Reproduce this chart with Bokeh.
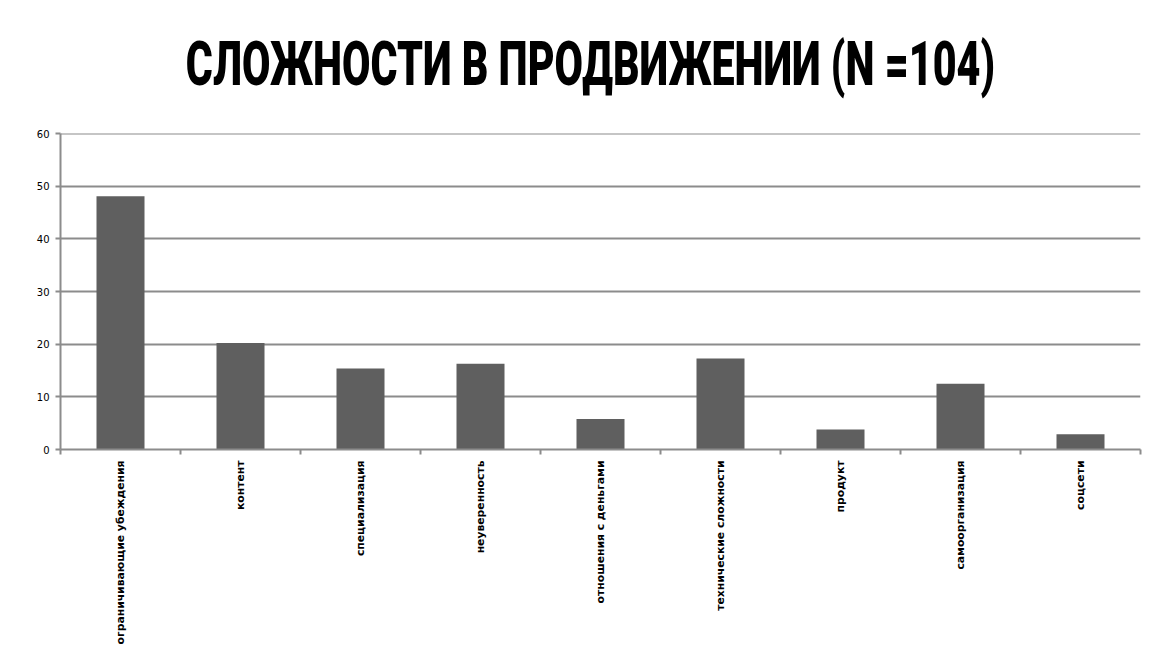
from bokeh.plotting import figure
from bokeh.models import Range1d, LinearAxis, FixedTicker, ColumnDataSource, Div, Span
from bokeh.layouts import column
from bokeh.embed import file_html
from bokeh.resources import INLINE
import math

title_text = "СЛОЖНОСТИ В ПРОДВИЖЕНИИ (N =104)"
categories = ["ограничивающие убеждения", "контент", "специализация", "неуверенность",
              "отношения с деньгами", "технические сложности", "продукт",
              "самоорганизация", "соцсети"]
values = [48.1, 20.2, 15.4, 16.3, 5.8, 17.3, 3.8, 12.5, 2.9]
y_ticks = [0, 10, 20, 30, 40, 50, 60]

GRID = "#8c8c8c"
BAR = "#5f5f5f"

n = len(categories)
centers = [i + 0.5 for i in range(n)]
src = ColumnDataSource(dict(x=centers, val=values, cat=categories))

title = Div(
    text=('<div style="display:flex;justify-content:center;width:1154px;overflow:visible;">'
          '<span style="display:inline-block;white-space:nowrap;font-family:Roboto,sans-serif;'
          'font-weight:900;font-size:62px;line-height:62px;color:black;margin-left:16px;'
          'transform:scaleX(0.665);transform-origin:center;">'
          + title_text + '</span></div>'),
    width=1154, height=110,
    styles={"padding-top": "28px"},
)

p = figure(frame_width=1080, frame_height=316, output_backend="svg", toolbar_location=None,
           x_range=Range1d(0, n), y_range=Range1d(0, y_ticks[-1]),
           min_border_left=60, min_border_right=14, min_border_top=13,
           min_border_bottom=0, x_axis_location=None)
p.outline_line_color = None
p.background_fill_color = "white"
p.border_fill_color = "white"

p.vbar(x="x", top="val", width=0.4, source=src, fill_color=BAR, line_color=None)

# y axis
p.yaxis.ticker = FixedTicker(ticks=y_ticks)
p.yaxis.axis_line_color = GRID
p.yaxis.axis_line_width = 2
p.yaxis.major_tick_line_color = GRID
p.yaxis.major_tick_line_width = 2
p.yaxis.major_tick_out = 5
p.yaxis.major_tick_in = 0
p.yaxis.minor_tick_line_color = None
p.yaxis.major_label_text_font = "DejaVu Sans"
p.yaxis.major_label_text_font_size = "10px"
p.yaxis.major_label_text_color = "black"
p.yaxis.major_label_standoff = 6

p.ygrid.ticker = FixedTicker(ticks=y_ticks)
p.ygrid.grid_line_color = GRID
p.ygrid.grid_line_width = 2
p.xgrid.grid_line_color = None

# top gridline at the range end (not clipped)
p.add_layout(Span(location=y_ticks[-1], dimension="width", line_color=GRID, line_width=2))

# boundary ticks axis (closest to plot)
bax = LinearAxis(ticker=FixedTicker(ticks=list(range(n + 1))))
bax.axis_line_color = GRID
bax.axis_line_width = 2
bax.major_tick_line_color = GRID
bax.major_tick_line_width = 2
bax.major_tick_out = 5
bax.major_tick_in = 0
bax.minor_tick_line_color = None
bax.major_label_overrides = {i: "" for i in range(n + 1)}
bax.major_label_text_font_size = "1px"
bax.major_label_standoff = 0
p.add_layout(bax, "below")

# category labels
cax = LinearAxis(ticker=FixedTicker(ticks=centers))
cax.axis_line_color = None
cax.major_tick_line_color = None
cax.minor_tick_line_color = None
cax.major_label_overrides = {c: name for c, name in zip(centers, categories)}
cax.major_label_orientation = math.pi / 2
cax.major_label_text_font = "DejaVu Sans"
cax.major_label_text_font_style = "bold"
cax.major_label_text_font_size = "10.8px"
cax.major_label_text_color = "black"
cax.major_label_standoff = 0
p.add_layout(cax, "below")

layout = column(title, p, spacing=0)
open("out.html", "w").write(file_html(layout, INLINE))
